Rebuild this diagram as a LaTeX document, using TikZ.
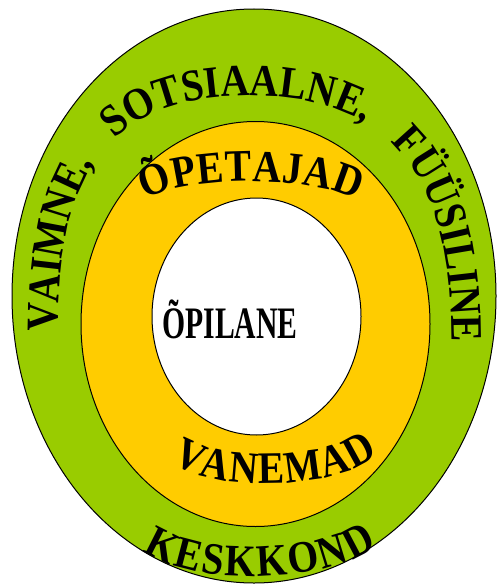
\documentclass[tikz,border=0pt]{standalone}
\usepackage{fontspec}
\usetikzlibrary{decorations.text}
\newfontfamily\ringfont[FakeStretch=0.88]{Liberation Serif}
\newfontfamily\corefont[FakeStretch=0.66]{Liberation Serif}
\definecolor{keskkond}{HTML}{99CC00}
\definecolor{kodukool}{HTML}{FFCC00}

\begin{document}
\begin{tikzpicture}[
    x=1pt, y=-1pt,
    ring/.style={draw=black, line width=1pt},
    ringtext/.style={decorate, decoration={text along path,
        text align={fit to path}, text={#1}}},
    widetext/.style={decorate, decoration={text along path,
        text align={fit to path stretching spaces}, text={#1}}}
]
    \useasboundingbox (0,0) rectangle (496,586);

    % Ellipses
    \draw[ring, fill=keskkond] (254,296) ellipse [x radius=242, y radius=287];
    \draw[ring, fill=kodukool] (255.5,324) ellipse [x radius=174.5, y radius=202.5];
    \draw[ring, fill=white] (256.5,316.5) ellipse [x radius=104.5, y radius=118.5];

    % Curved labels
    \ringfont\bfseries\fontsize{45}{45}\selectfont
    \path[widetext={VAIMNE, SOTSIAALNE, FÜÜSILINE}]
        (58,332) .. controls (58,172) and (108,96) .. (250,96)
        .. controls (390,96) and (452,172) .. (452,342);
    \path[ringtext={ÕPETAJAD}]
        (145,200) .. controls (190,175) and (310,175) .. (357,200);
    \path[ringtext={VANEMAD}]
        (172,462) .. controls (215,492) and (330,492) .. (378,455);
    \path[ringtext={KESKKOND}]
        (143,550) .. controls (190,586) and (320,586) .. (377,546);

    % Centre
    \node[anchor=base, inner sep=0pt] (opilane) at (230,338)
        {\corefont\bfseries\fontsize{45}{45}\selectfont ÕPILANE};
\end{tikzpicture}
\end{document}
